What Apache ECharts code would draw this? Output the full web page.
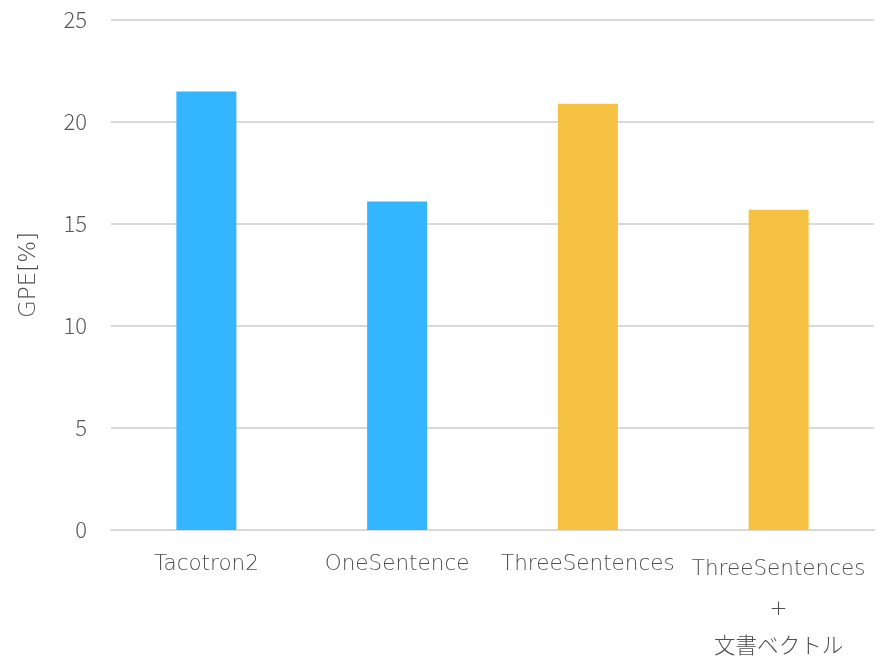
<!DOCTYPE html>
<html><head><meta charset="utf-8">
<script src="https://cdn.jsdelivr.net/npm/echarts@6/dist/echarts.min.js"></script>
<style>html,body{margin:0;padding:0;background:#fff}#c{width:885px;height:660px}</style>
</head><body><div id="c"></div>
<script>
const categories = ['Tacotron2', 'OneSentence', 'ThreeSentences', 'ThreeSentences\n+\n文書ベクトル'];
const gpeValues = [21.5, 16.1, 20.9, 15.7];
const barColors = ['#33B5FF', '#33B5FF', '#F4C142', '#F4C142'];
const yTicks = [0, 5, 10, 15, 20, 25];
const yAxisName = 'GPE[%]';

const font = '"DejaVu Sans", "Noto Sans CJK JP", sans-serif';
const numFont = '"Noto Sans CJK JP", "Noto Sans", sans-serif';
const lastStyles = ['a', 'p', 'j'];
const chart = echarts.init(document.getElementById('c'), null, {renderer: 'canvas'});
chart.setOption({
  animation: false,
  grid: {left: 111, right: 11, top: 20, bottom: 130, containLabel: false, outerBoundsMode: 'none'},
  xAxis: {
    type: 'category',
    data: categories,
    axisLine: {lineStyle: {color: '#d9d9d9', width: 2}},
    axisTick: {show: false},
    axisLabel: {
      color: '#505050', fontFamily: font, fontWeight: 200, fontSize: 21.5, margin: 14, lineHeight: 40,
      interval: 0,
      formatter: function (v, i) {
        if (i !== categories.length - 1) return v;
        return v.split('\n').map((s, k) => '{' + lastStyles[k] + '|' + s + '}').join('\n');
      },
      rich: {
        a: {color: '#505050', fontFamily: font, fontWeight: 200, fontSize: 21.5, lineHeight: 50},
        p: {color: '#505050', fontFamily: font, fontWeight: 200, fontSize: 21.5, lineHeight: 30},
        j: {color: '#505050', fontFamily: font, fontWeight: 200, fontSize: 21.5, lineHeight: 46}
      }
    }
  },
  yAxis: {
    type: 'value', min: yTicks[0], max: yTicks[yTicks.length - 1], interval: 5,
    name: yAxisName, nameLocation: 'middle', nameGap: 70, nameRotate: 90,
    nameTextStyle: {color: '#505050', fontFamily: font, fontWeight: 200, fontSize: 23},
    axisLine: {show: false}, axisTick: {show: false},
    axisLabel: {color: '#595959', fontFamily: numFont, fontWeight: 300, fontSize: 22, margin: 24},
    splitLine: {lineStyle: {color: '#d9d9d9', width: 2}}
  },
  series: [{
    type: 'bar',
    barWidth: 60,
    data: gpeValues.map((v, i) => ({value: v, itemStyle: {color: barColors[i]}}))
  }]
});
</script></body></html>
